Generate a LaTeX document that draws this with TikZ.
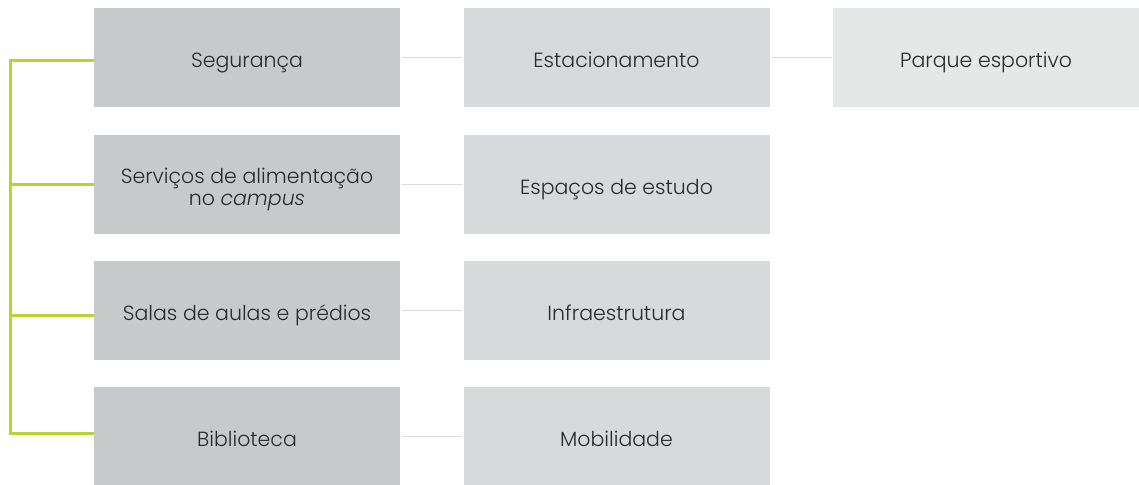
\documentclass[tikz,border=0pt]{standalone}
\usepackage{fontspec}
\IfFontExistsTF{Poppins Light}{%
  \IfFontExistsTF{Poppins Light Italic}{%
    \setmainfont{Poppins Light}[ItalicFont={Poppins Light Italic}]}{%
    \setmainfont{Poppins Light}}}{%
  \setmainfont{Poppins}}
\definecolor{boxA}{HTML}{C8C9CB}
\definecolor{boxB}{HTML}{D8D9DB}
\definecolor{boxC}{HTML}{E6E7E7}
\definecolor{txt}{HTML}{2A2A2A}
\definecolor{grn}{HTML}{B7D433}
\definecolor{conn}{HTML}{D9D9D9}
\tikzset{
  bx/.style={minimum width=306pt, minimum height=99pt, inner sep=0pt, draw=none,
    text=txt, align=center, text height=24pt, text depth=4pt,
    font=\fontsize{20.5}{22}\selectfont},
  colA/.style={bx, fill=boxA},
  colB/.style={bx, fill=boxB},
  colC/.style={bx, fill=boxC},
  gline/.style={draw=grn, line width=3pt},
  cline/.style={draw=conn, line width=1.5pt, shorten <=2pt, shorten >=1pt}
}
\begin{document}
\begin{tikzpicture}[x=1pt,y=-1pt]
\useasboundingbox (0,0) rectangle (1139,484);
\node[colA] (a1) at (247,57.5) {Segurança};
\node[colA, text height=45pt] (a2) at (247,184.5) {Serviços de alimentação\\no \textit{campus}};
\node[colA] (a3) at (247,310.5) {Salas de aulas e prédios};
\node[colA] (a4) at (247,436.5) {Biblioteca};
\node[colB] (b1) at (616.5,57.5) {Estacionamento};
\node[colB] (b2) at (616.5,184.5) {Espaços de estudo};
\node[colB] (b3) at (616.5,310.5) {Infraestrutura};
\node[colB] (b4) at (616.5,436.5) {Mobilidade};
\node[colC] (c1) at (986,57.5) {Parque esportivo};
\draw[cline] (a1) -- (b1);
\draw[cline] (b1) -- (c1);
\draw[cline] (a2) -- (b2);
\draw[cline] (a3) -- (b3);
\draw[cline] (a4) -- (b4);
\coordinate (gt) at (10,61);
\coordinate (gb) at (10,433);
\draw[gline] ([yshift=-3.5pt]a1.west) -- (gt) -- (gb) -- ([yshift=3.5pt]a4.west);
\draw[gline] (a2.west) -- (a2.west -| gt);
\draw[gline] ([yshift=-4.5pt]a3.west) -- ([yshift=-4.5pt]a3.west -| gt);
\end{tikzpicture}
\end{document}
